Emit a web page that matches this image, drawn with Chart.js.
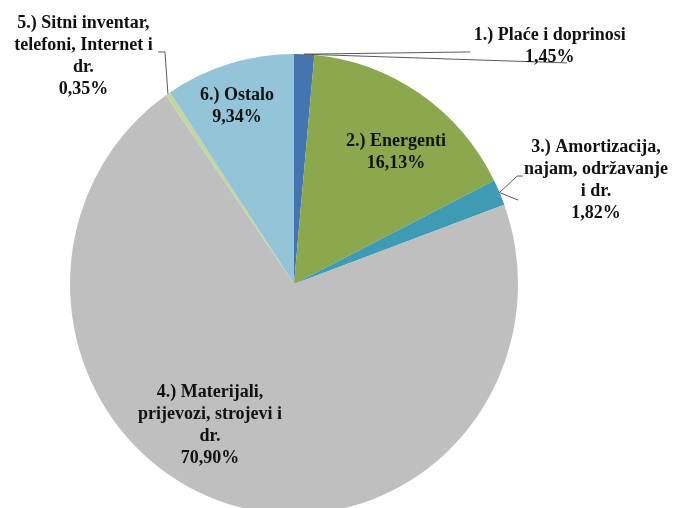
<!DOCTYPE html>
<html>
<head>
<meta charset="utf-8">
<script src="https://cdn.jsdelivr.net/npm/chart.js@4/dist/chart.umd.min.js"></script>
<style>
  html, body { margin: 0; padding: 0; background: #fff; }
  #wrap { width: 673px; height: 508px; }
</style>
</head>
<body>
<div id="wrap"><canvas id="costChart" width="673" height="508"></canvas></div>
<script>
// data
var categories = [
	['1.) Plaće i doprinosi'],
	['2.) Energenti'],
	['3.) Amortizacija,', 'najam, održavanje', 'i dr.'],
	['4.) Materijali,', 'prijevozi, strojevi i', 'dr.'],
	['5.) Sitni inventar,', 'telefoni, Internet i', 'dr.'],
	['6.) Ostalo']
];
var shares = [1.45, 16.13, 1.82, 70.90, 0.35, 9.34];
var percentLabels = ['1,45%', '16,13%', '1,82%', '70,90%', '0,35%', '9,34%'];

var sliceColors = ['#4674ae', '#8ca84f', '#3f9bb4', '#bfbfbf', '#c3d69b', '#93c4d8'];

// the original pie is slightly taller than wide
var stretchY = 1.027;

// label centre, as a multiple of the radius from the pie centre
var labelPos = [
	[1.142, -1.063],
	[0.455, -0.589],
	[1.348, -0.462],
	[-0.375, 0.629],
	[-0.94, -1.016],
	[-0.254, -0.792]
];
// leader lines: extra points (radius multiples) after the slice edge
var leaders = {
	0: [[[0.786, -1.036]], [[1.219, -0.987]]],
	2: [[[0.996, -0.482], [1.022, -0.482]], [[1.0, -0.375]]],
	4: [[[-0.576, -1.036], [-0.607, -1.036]]]
};

var labelPlugin = {
	id: 'sliceLabels',
	beforeDatasetsDraw: function(chart){
		var arc0 = chart.getDatasetMeta(0).data[0];
		var ctx = chart.ctx;
		ctx.save();
		ctx.translate(arc0.x, arc0.y);
		ctx.scale(1, stretchY);
		ctx.translate(-arc0.x, -arc0.y);
	},
	afterDatasetsDraw: function(chart){
		var ctx = chart.ctx;
		ctx.restore();
		var meta = chart.getDatasetMeta(0);
		var arc0 = meta.data[0];
		var cx = arc0.x, cy = arc0.y, r = arc0.outerRadius;
		ctx.save();

		// leader lines
		ctx.strokeStyle = '#5a5a5a';
		ctx.lineWidth = 1;
		Object.keys(leaders).forEach(function(key){
			var arc = meta.data[key];
			var mid = (arc.startAngle + arc.endAngle) / 2;
			var ex = cx + Math.cos(mid) * r;
			var ey = cy + Math.sin(mid) * r * stretchY;
			leaders[key].forEach(function(pts){
				ctx.beginPath();
				ctx.moveTo(ex, ey);
				pts.forEach(function(p){
					ctx.lineTo(cx + p[0] * r, cy + p[1] * r);
				});
				ctx.stroke();
			});
		});

		ctx.font = 'bold 18px "Liberation Serif", "Times New Roman", serif';
		ctx.fillStyle = '#111';
		ctx.textAlign = 'center';
		ctx.textBaseline = 'middle';
		var lineH = 22;
		categories.forEach(function(lines, i){
			var all = lines.concat([percentLabels[i]]);
			var x = cx + labelPos[i][0] * r;
			var y = cy + labelPos[i][1] * r - (all.length - 1) * lineH / 2;
			all.forEach(function(t, j){
				ctx.fillText(t, x, y + j * lineH);
			});
		});
		ctx.restore();
	}
};

var ctx = document.getElementById('costChart');
var costChart = new Chart(ctx, {
	type: 'pie',
	data: {
		labels: categories.map(function(c){ return c.join(' '); }),
		datasets: [{
			data: shares,
			backgroundColor: sliceColors,
			borderWidth: 0
		}]
	},
	options: {
		responsive: false,
		animation: false,
		layout: {
			padding: { top: 60, bottom: 0, left: 70, right: 155 }
		},
		plugins: {
			legend: { display: false },
			tooltip: { enabled: false }
		}
	},
	plugins: [labelPlugin]
});
</script>
</body>
</html>
